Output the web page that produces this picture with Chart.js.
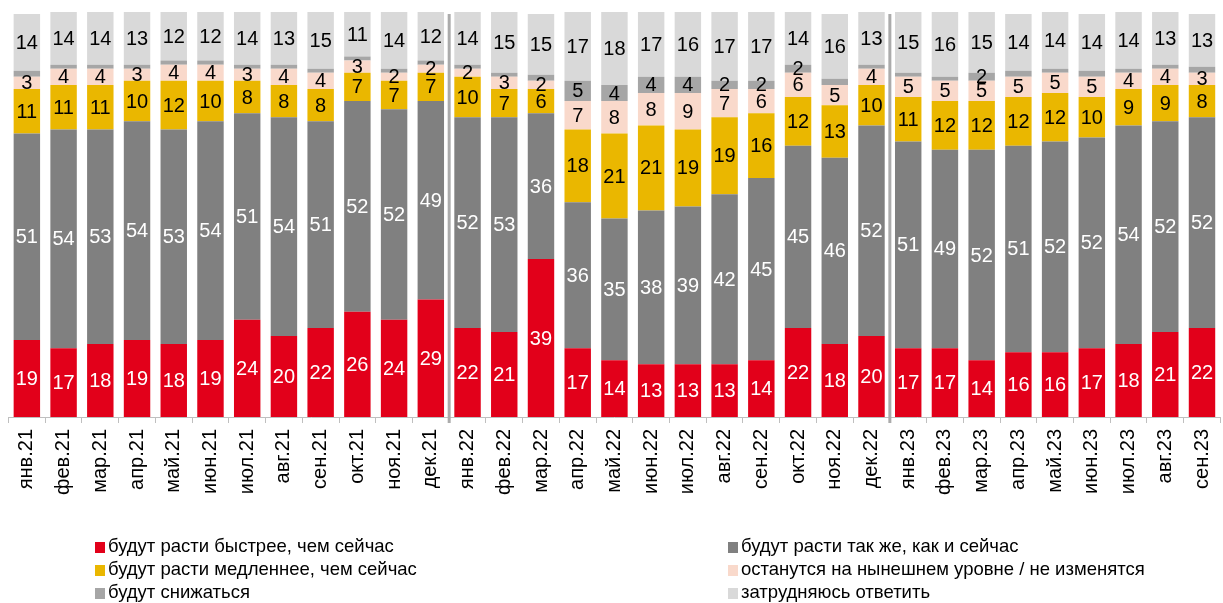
<!DOCTYPE html>
<html>
<head>
<meta charset="utf-8">
<script src="https://cdn.jsdelivr.net/npm/chart.js@4.4.1/dist/chart.umd.min.js"></script>
<style>
  html, body { margin: 0; padding: 0; background: #fff; overflow: hidden; width: 1223px; height: 603px; }
  #wrap { position: absolute; left: 0; top: 0; width: 1232px; height: 603px; }
  .legend { position: absolute; font-family: "Liberation Sans", Arial, sans-serif; font-size: 18.5px; color: #000; white-space: nowrap; }
  .legend .item { position: absolute; height: 22px; line-height: 22px; }
  .legend .sw { display: inline-block; width: 10px; height: 11px; margin-right: 3px; vertical-align: -1px; }
</style>
</head>
<body>
<div id="wrap"><canvas id="c"></canvas></div>
<div id="legend" class="legend"></div>
<script>
const categories = ['янв.21','фев.21','мар.21','апр.21','май.21','июн.21','июл.21','авг.21','сен.21','окт.21','ноя.21','дек.21',
  'янв.22','фев.22','мар.22','апр.22','май.22','июн.22','июл.22','авг.22','сен.22','окт.22','ноя.22','дек.22',
  'янв.23','фев.23','мар.23','апр.23','май.23','июн.23','июл.23','авг.23','сен.23'];

const faster    = [19,17,18,19,18,19,24,20,22,26,24,29,22,21,39,17,14,13,13,13,14,22,18,20,17,17,14,16,16,17,18,21,22];
const same      = [51,54,53,54,53,54,51,54,51,52,52,49,52,53,36,36,35,38,39,42,45,45,46,52,51,49,52,51,52,52,54,52,52];
const slower    = [11,11,11,10,12,10,8,8,8,7,7,7,10,7,6,18,21,21,19,19,16,12,13,10,11,12,12,12,12,10,9,9,8];
const unchanged = [3,4,4,3,4,4,3,4,4,3,2,2,2,3,2,7,8,8,9,7,6,6,5,4,5,5,5,5,5,5,4,4,3];
const decrease  = [1.5,1,1,1,1,1,1,1,1,1,1,1,1,1,1.5,5,4,4,4,2,2,2,1.5,1,1,1,2,1.5,1,1.5,1,1,1.5];
const unsure    = [14,14,14,13,12,12,14,13,15,11,14,12,14,15,15,17,18,17,16,17,17,14,16,13,15,16,15,14,14,14,14,13,13];

const seriesNames = ['будут расти быстрее, чем сейчас','будут расти так же, как и сейчас','будут расти медленнее, чем сейчас',
  'останутся на нынешнем уровне / не изменятся','будут снижаться','затрудняюсь ответить'];
const separatorsAfter = ['дек.21','дек.22'];

const colors = ['#E2001A','#808080','#EAB700','#F9D9CB','#A6A6A6','#D9D9D9'];
const labelColors = ['#fff','#fff','#000','#000','#000','#000'];
const FONT = '"Liberation Sans", Arial, sans-serif';

const seriesData = [faster, same, slower, unchanged, decrease, unsure];

const labelPlugin = {
  id: 'labels',
  afterDatasetsDraw(chart) {
    const ctx = chart.ctx;
    const area = chart.chartArea;
    const xs = chart.scales.x;
    ctx.save();
    ctx.strokeStyle = '#ABABAB';
    ctx.lineWidth = 3;
    separatorsAfter.forEach(cat => {
      const i = categories.indexOf(cat);
      const x = (xs.getPixelForTick(i) + xs.getPixelForTick(i + 1)) / 2;
      ctx.beginPath();
      ctx.moveTo(x, area.top + 2);
      ctx.lineTo(x, area.bottom + 6);
      ctx.stroke();
    });
    ctx.restore();
    ctx.save();
    ctx.font = '20px ' + FONT;
    ctx.textAlign = 'center';
    ctx.textBaseline = 'middle';
    chart.data.datasets.forEach((ds, di) => {
      const meta = chart.getDatasetMeta(di);
      meta.data.forEach((el, i) => {
        const v = ds.data[i];
        if (v < 2) return;
        const top = Math.max(el.y, area.top);
        const cy = (top + el.base) / 2;
        ctx.fillStyle = labelColors[di];
        ctx.fillText(String(Math.round(v)), el.x, cy + 1);
      });
    });
    ctx.restore();
  }
};

new Chart(document.getElementById('c'), {
  type: 'bar',
  data: {
    labels: categories,
    datasets: seriesData.map((d, i) => ({
      label: seriesNames[i],
      data: d,
      backgroundColor: colors[i],
      borderWidth: 0,
      barPercentage: 0.72,
      categoryPercentage: 1.0
    }))
  },
  options: {
    responsive: true,
    maintainAspectRatio: false,
    animation: false,
    layout: { padding: { left: 8.5, right: 0, top: 12, bottom: 0 } },
    plugins: { legend: { display: false }, tooltip: { enabled: false } },
    scales: {
      x: {
        stacked: true,
        grid: { offset: true, drawOnChartArea: false, drawTicks: true, tickLength: 6, color: '#BFBFBF' },
        border: { display: true, color: '#BFBFBF', width: 1 },
        ticks: { autoSkip: false, minRotation: 90, maxRotation: 90, padding: 6, color: '#000', font: { family: FONT, size: 20 } },
        afterFit(scale) { scale.height = 186; }
      },
      y: { stacked: true, display: false, min: 0, max: 100 }
    }
  },
  plugins: [labelPlugin]
});

const legendPos = [[95,535],[728,535],[95,558],[728,558],[95,581],[728,581]];
const lg = document.getElementById('legend');
seriesNames.forEach((name, k) => {
  const it = document.createElement('div');
  it.className = 'item';
  it.style.left = legendPos[k][0] + 'px';
  it.style.top = legendPos[k][1] + 'px';
  const sw = document.createElement('span');
  sw.className = 'sw';
  sw.style.background = colors[k];
  it.appendChild(sw);
  it.appendChild(document.createTextNode(name));
  lg.appendChild(it);
});
</script>
</body>
</html>
